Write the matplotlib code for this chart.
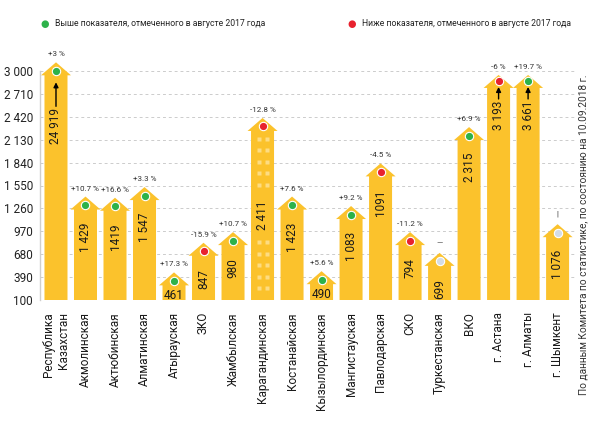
import matplotlib
matplotlib.use("Agg")
import matplotlib.pyplot as plt
from matplotlib.patches import Polygon
import numpy as np

plt.rcParams['font.family'] = ['Roboto', 'DejaVu Sans']

categories = ["Республика\nКазахстан", "Акмолинская", "Актюбинская", "Алматинская",
              "Атырауская", "ЗКО", "Жамбылская", "Карагандинская", "Костанайская",
              "Кызылординская", "Мангистауская", "Павлодарская", "СКО", "Туркестанская",
              "ВКО", "г. Астана", "г. Алматы", "г. Шымкент"]
# labelled values
values = [24919, 1429, 1419, 1547, 461, 847, 980, 2411, 1423, 490, 1083, 1091,
          794, 699, 2315, 3193, 3661, 1076]
value_labels = ["24 919", "1 429", "1419", "1 547", "461", "847", "980", "2 411",
                "1 423", "490", "1 083", "1091", "794", "699", "2 315", "3 193",
                "3 661", "1 076"]
# bar heights as drawn in the picture (on the axis scale)
bar_heights = [3110, 1410, 1395, 1530, 450, 825, 960, 2405, 1410, 465, 1290, 1830,
               960, 697, 2290, 2950, 2950, 1060]
changes = ["+3 %", "+10.7 %", "+16.6 %", "+3.3 %", "+17.3 %", "-15.9 %", "+10.7 %",
           "-12.8 %", "+7.6 %", "+5.6 %", "+9.2 %", "-4.5 %", "-11.2 %", "—",
           "+6.9 %", "-6 %", "+19.7 %", "|"]
status = ["up", "up", "up", "up", "up", "down", "up", "down", "up", "up", "up",
          "down", "down", "none", "up", "down", "up", "none"]
yticks = [100, 390, 680, 970, 1260, 1550, 1840, 2130, 2420, 2710, 3000]
ytick_labels = ["100", "390", "680", "970", "1 260", "1 550", "1 840", "2 130",
                "2 420", "2 710", "3 000"]
capped = [0, 15, 16]

YELLOW = "#FBC22C"
WINDOW = "#FDDC82"
dot_colors = {"up": "#2DB24A", "down": "#E8222E", "none": "#D3DCE6"}

W, H = 590, 430
fig = plt.figure(figsize=(W / 100, H / 100), dpi=100)
ax = fig.add_axes([40 / W, 130 / H, 535 / W, 229 / H])
ymin, ymax = 100, 3000
ax.set_ylim(ymin, ymax)
ax.set_xlim(-0.542, 17.59)
UY = (ymax - ymin) / 229.0   # data units per pixel (y)
UX = 1 / 29.5                # data units per pixel (x)

# grid & axes
ax.set_yticks(yticks)
ax.set_yticklabels(ytick_labels, fontsize=8.5, color="#222222")
ax.tick_params(axis='y', length=0, pad=5)
ax.set_xticks([])
for s in ['top', 'right', 'bottom']:
    ax.spines[s].set_visible(False)
ax.spines['left'].set_color('#cfcfcf')
ax.spines['left'].set_linewidth(1.0)
for t in yticks:
    ax.axhline(t, color='#cccccc', lw=0.7, ls=(0, (3, 3)), zorder=0)

hw = 11.5 * UX
rw = 15 * UX
rh = 13 * UY

for i, v in enumerate(values):
    top = bar_heights[i]
    rtop = top - rh
    pts = [(i - hw, ymin), (i - hw, rtop), (i - rw, rtop), (i, top),
           (i + rw, rtop), (i + hw, rtop), (i + hw, ymin)]
    ax.add_patch(Polygon(pts, closed=True, facecolor=YELLOW, edgecolor='none',
                         zorder=2, clip_on=False))
    # dot
    dot_y = top - (8.5 if i not in capped[1:] else 6) * UY
    ax.plot(i, dot_y, 'o', ms=6, mfc=dot_colors[status[i]], mec='white',
            mew=0.8, zorder=4, clip_on=False)
    # change label
    off = 10 if changes[i] in ("—", "|") else 8
    ax.text(i, top + off * UY, changes[i], ha='center', va='center', fontsize=5.8,
            color='#333333', clip_on=False)
    # value label
    if i in capped:
        t_off = 46 if i == 0 else 26
        tip = 20 if i == 0 else 12
        ttop = top - t_off * UY
        ax.text(i, ttop, value_labels[i], rotation=90, ha='center', va='top',
                fontsize=8.5, color='#1a1a1a', zorder=5)
        ax.annotate("", xy=(i, top - tip * UY), xytext=(i, ttop + 2 * UY),
                    arrowprops=dict(arrowstyle='-|>', color='black', lw=1.0,
                                    mutation_scale=7, shrinkA=0, shrinkB=0),
                    zorder=5, annotation_clip=False)
    elif top - ymin < 40 * UY:
        ax.text(i, rtop - 10 * UY, value_labels[i], ha='center', va='center',
                fontsize=8.5, color='#1a1a1a', zorder=5)
    elif categories[i] == "Карагандинская":
        ttop = rtop - 70 * UY
        tbot = ttop - 30 * UY
        ax.text(i, ttop, value_labels[i], rotation=90, ha='center', va='top',
                fontsize=8.5, color='#1a1a1a', zorder=5)
        y = rtop - 8 * UY
        while y > ymin + 8 * UY:
            if not (tbot - 6 * UY < y < ttop + 6 * UY):
                for dx in (-4 * UX, 4 * UX):
                    ax.plot(i + dx, y, 's', ms=2.6, mfc=WINDOW, mec='none',
                            zorder=3)
            y -= 11.5 * UY
    else:
        ax.text(i, rtop - 13 * UY, value_labels[i], rotation=90, ha='center',
                va='top', fontsize=8.5, color='#1a1a1a', zorder=5)

    # category label
    ax.text(i, ymin - 12 * UY, categories[i], rotation=90, ha='center', va='top',
            fontsize=8.5, color='#1a1a1a', multialignment='right', clip_on=False)

# legend
fig.text(45 / W, 1 - 24 / H, "●", color=dot_colors["up"], fontsize=7,
         ha='center', va='center', family='DejaVu Sans')
fig.text(55 / W, 1 - 24 / H, "Выше показателя, отмеченного в августе 2017 года",
         fontsize=6.2, ha='left', va='center', color='#222222')
fig.text(352 / W, 1 - 24 / H, "●", color=dot_colors["down"], fontsize=7,
         ha='center', va='center', family='DejaVu Sans')
fig.text(362 / W, 1 - 24 / H, "Ниже показателя, отмеченного в августе 2017 года",
         fontsize=6.2, ha='left', va='center', color='#222222')

# source note
fig.text(583 / W, 1 - 235 / H,
         "По данным Комитета по статистике, по состоянию на 10.09.2018 г.",
         rotation=90, fontsize=7.3, ha='center', va='center', color='#333333')

fig.savefig("out.png", dpi=100)
